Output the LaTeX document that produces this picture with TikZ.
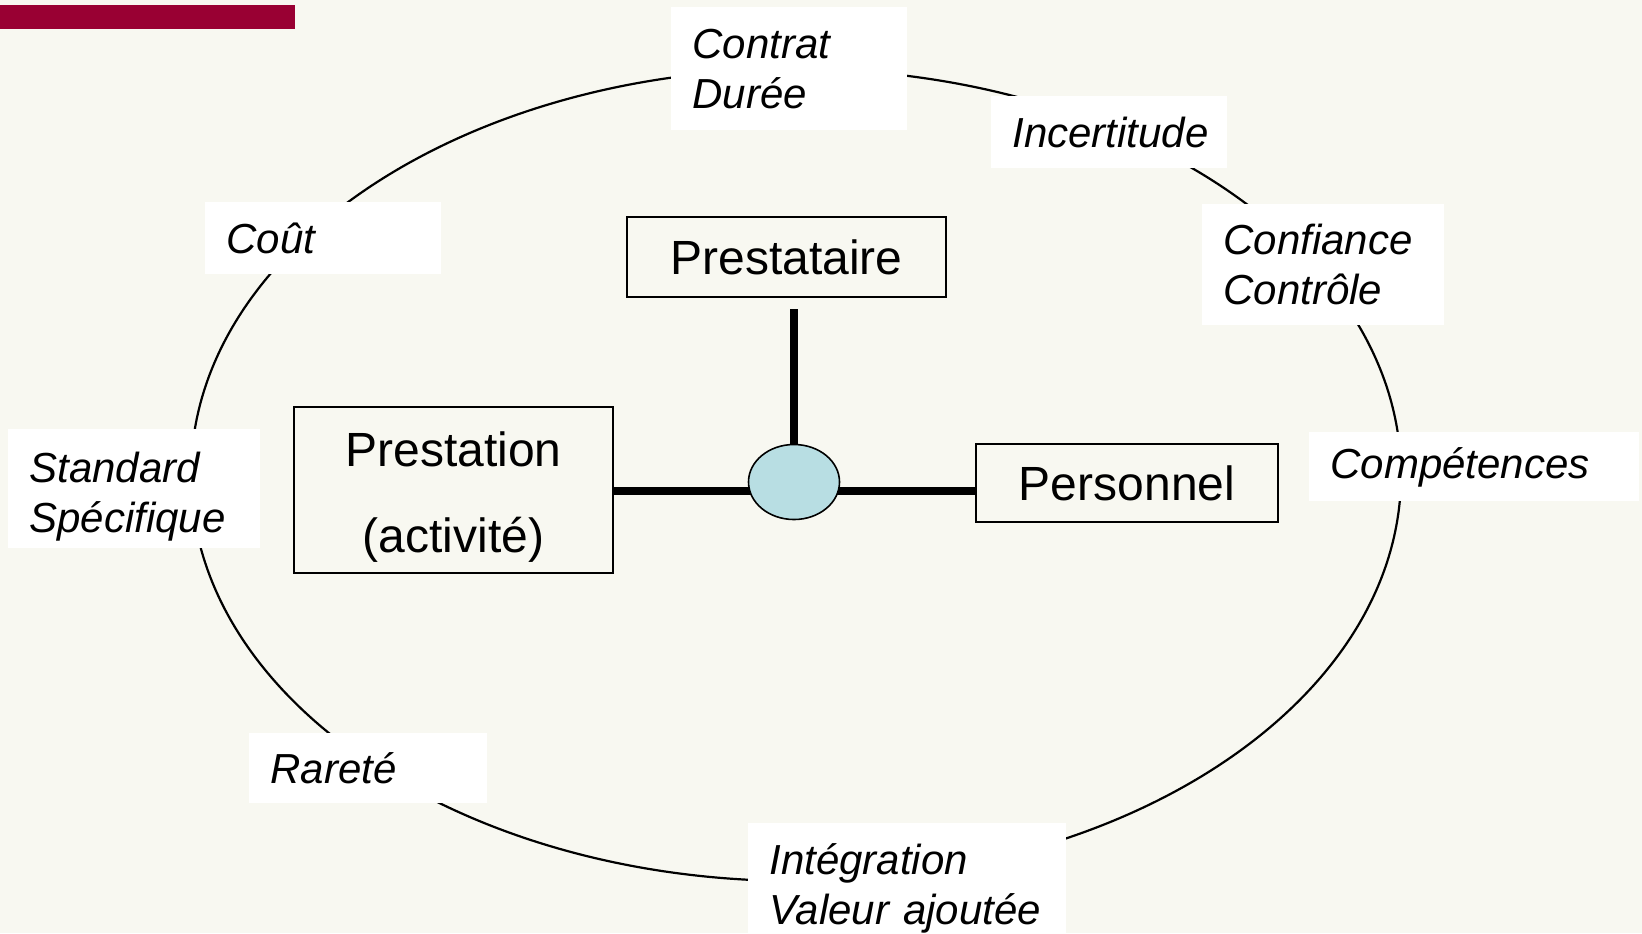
\documentclass[tikz,border=0pt]{standalone}
\usepackage{fontspec}
\setmainfont{Liberation Sans}
\usetikzlibrary{shapes.geometric}
\definecolor{bgc}{RGB}{248,248,241}
\definecolor{barred}{RGB}{153,0,51}
\definecolor{hubblue}{RGB}{184,222,227}
\begin{document}
\begin{tikzpicture}[x=0.5pt,y=-0.5pt,
  lbl/.style={fill=white, anchor=north west, inner xsep=10.5pt, inner ysep=0pt, align=left,
    font=\fontsize{21}{25}\selectfont\itshape},
  box/.style={draw=black, line width=1pt, inner sep=0pt, align=center,
    font=\fontsize{24}{29}\selectfont},
  conn/.style={line width=3.8pt}]
\fill[bgc] (0,0) rectangle (1642,933);
\useasboundingbox (0,0) rectangle (1642,933);
\fill[barred] (0,5) rectangle (295,29);
% outer cycle
\draw[line width=1.1pt] (796,475) ellipse [x radius=605, y radius=406];
% labels
\node[lbl, text width=97pt, minimum height=61.5pt, yshift=-1pt] (contrat) at (671,5) {Contrat\\Durée};
\node[lbl, text width=97pt, minimum height=36pt] (incert) at (991,96) {Incertitude};
\node[lbl, text width=97pt, minimum height=36pt] (cout) at (205,202) {Coût};
\node[lbl, text width=100pt, minimum height=60.5pt] (confiance) at (1202,204) {Confiance\\Contrôle};
\node[lbl, text width=105pt, minimum height=59.5pt] (standard) at (8,429) {\rule{0pt}{22.7pt}Standard\\Spécifique};
\node[lbl, text width=144pt, minimum height=34.5pt] (comp) at (1309,432) {Compétences};
\node[lbl, text width=98pt, minimum height=35pt] (rarete) at (249,733) {Rareté};
\node[lbl, text width=138pt, minimum height=60pt] (integ) at (748,823) {\rule{0pt}{20.5pt}Intégration\\Valeur ajoutée};
% central boxes
\node[box, minimum width=159.5pt, minimum height=40pt] (prestataire) at (786.5,257) {Prestataire};
\node[box, minimum width=159.5pt, minimum height=83pt] (prestation) at (453.5,490) {};
\node[box, draw=none, anchor=center] (prestationtext) at ([yshift=-3.7pt]prestation.center) {Prestation\\[14pt](activité)};
\node[box, minimum width=151pt, minimum height=39pt] (personnel) at (1127,483) {Personnel};
\coordinate (hubc) at (794,482);
% connectors
\draw[conn] ([yshift=-5.5pt]prestataire.south -| hubc) -- (hubc);
\draw[conn] ([yshift=-0.5pt]prestation.east) -- ([yshift=-0.5pt]prestation.east -| hubc);
\draw[conn] ([yshift=-0.5pt]prestation.east -| hubc) -- ([yshift=-0.5pt]prestation.east -| personnel.west);
\node[draw=black, line width=0.8pt, fill=hubblue, ellipse, minimum width=45.5pt, minimum height=37.5pt, inner sep=0pt] (hub) at (hubc) {};
\end{tikzpicture}
\end{document}
